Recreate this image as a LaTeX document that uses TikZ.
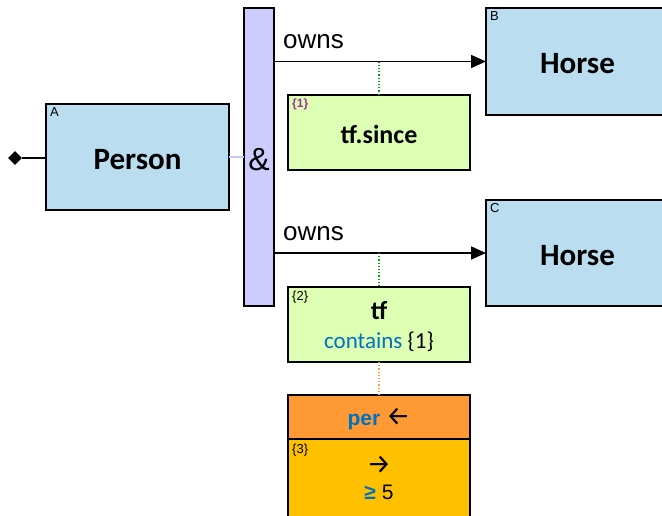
\documentclass[tikz,border=0pt]{standalone}
\usepackage{fontspec}
\setmainfont{Carlito}
\newfontfamily\arial{Liberation Sans}
\newfontfamily\arrowfont{Fira Sans}
\usetikzlibrary{shapes.geometric,arrows.meta}
\definecolor{cls}{RGB}{187,221,240}
\definecolor{barc}{RGB}{204,204,255}
\definecolor{grn}{RGB}{221,255,179}
\definecolor{orng}{RGB}{255,153,51}
\definecolor{ylw}{RGB}{255,192,0}
\definecolor{blu}{RGB}{0,112,192}
\definecolor{purp}{RGB}{160,50,160}
\definecolor{dgrn}{RGB}{0,160,0}
\definecolor{lav}{RGB}{200,200,245}
\tikzset{
  box/.style={draw=black, line width=1.6pt, inner sep=0pt, outer sep=0pt},
  clsfont/.style={font=\bfseries\fontsize{31}{31}\selectfont, inner sep=0pt},
  grnbox/.style={box, fill=grn, minimum width=182pt, minimum height=75pt},
  tag/.style={font=\arial\fontsize{13}{13}\selectfont, inner sep=0pt, anchor=north west},
  rel/.style={line width=1.6pt, -{Triangle[length=15pt,width=13pt]}},
  lbl/.style={font=\arial\fontsize{26}{26}\selectfont, inner sep=0pt, anchor=base west},
  dotg/.style={dgrn, line width=1.2pt, dotted},
  doto/.style={orng, line width=1.2pt, dotted},
}
\begin{document}
\begin{tikzpicture}[x=1pt,y=-1pt]
\clip (0,0) rectangle (662,515);
\fill[white] (0,0) rectangle (662,515);
% class boxes
\node[box, fill=cls, minimum width=183pt, minimum height=106pt] (person) at (137.5,157) {};
\node[clsfont] (pt) at (137.5,160) {Person};
\node[box, fill=barc, minimum width=30pt, minimum height=298pt] (bar) at (259,157) {};
\node[font=\arial\fontsize{32}{32}\selectfont, inner sep=0pt] (amp) at (259,160) {\&};
\node[box, fill=cls, minimum width=183pt, minimum height=107pt] (hB) at (577.5,61.5) {};
\node[clsfont] (hBt) at (577.5,64) {Horse};
\node[box, fill=cls, minimum width=183pt, minimum height=106pt] (hC) at (577.5,253) {};
\node[clsfont] (hCt) at (577.5,256) {Horse};
\node[tag] (tA) at ([shift={(4,3)}]person.north west) {A};
\node[tag] (tB) at ([shift={(4,3)}]hB.north west) {B};
\node[tag] (tC) at ([shift={(4,3)}]hC.north west) {C};
% diamond
\node[diamond, fill=black, inner sep=0pt, minimum width=14pt, minimum height=14pt] (dia) at (15,158) {};
\draw[line width=1.6pt] (dia.east) -- (person.west |- dia.east);
\draw[lav, line width=2.4pt] (person.east) -- (bar.west |- person.east);
% relations
\coordinate (s1) at (bar.east |- hB.west);
\coordinate (s2) at (bar.east |- hC.west);
\draw[rel] (s1) -- (hB.west);
\draw[rel] (s2) -- (hC.west);
\node[lbl] (o1) at (283,48) {owns};
\node[lbl] (o2) at (283,240) {owns};
% green boxes
\node[grnbox] (ts) at (379,132.5) {};
\node[font=\bfseries\fontsize{26}{26}\selectfont, inner sep=0pt] (tst) at (379,134) {tf.since};
\node[tag, font=\bfseries\arial\fontsize{12}{12}\selectfont, text=purp] (t1) at ([shift={(4,4)}]ts.north west) {\{1\}};
\node[grnbox] (tf) at (379,324.5) {};
\node[font=\bfseries\fontsize{26}{26}\selectfont, inner sep=0pt] (tft) at (379,311) {tf};
\node[font=\fontsize{23}{23}\selectfont, inner sep=0pt] (cont) at (379,342) {\textcolor{blu}{contains} \{1\}};
\node[tag] (t2) at ([shift={(4,4)}]tf.north west) {\{2\}};
\coordinate (m1) at (ts.north |- s1);
\coordinate (m2) at (tf.north |- s2);
\draw[dotg] (m1) -- (ts.north);
\draw[dotg] (m2) -- (tf.north);
% per boxes
\node[box, fill=orng, minimum width=182pt, minimum height=44pt] (per) at (379,417) {};
\node[font=\arial\fontsize{21}{21}\selectfont, inner sep=0pt] (pert) at (379,419) {\textcolor{blu}{\bfseries per} {\arrowfont\fontsize{27}{27}\selectfont ←}};
\node[box, fill=ylw, minimum width=182pt, minimum height=90pt] (b3) at (379,484) {};
\node[tag] (t3) at ([shift={(4,5)}]b3.north west) {\{3\}};
\node[font=\arrowfont\fontsize{27}{27}\selectfont, inner sep=0pt] (arr) at (379,465) {→};
\node[font=\arial\fontsize{21}{21}\selectfont, inner sep=0pt] (ge) at (379,492) {\textcolor{blu}{\bfseries ≥} 5};
\draw[doto] (tf.south) -- (per.north);
\end{tikzpicture}
\end{document}
